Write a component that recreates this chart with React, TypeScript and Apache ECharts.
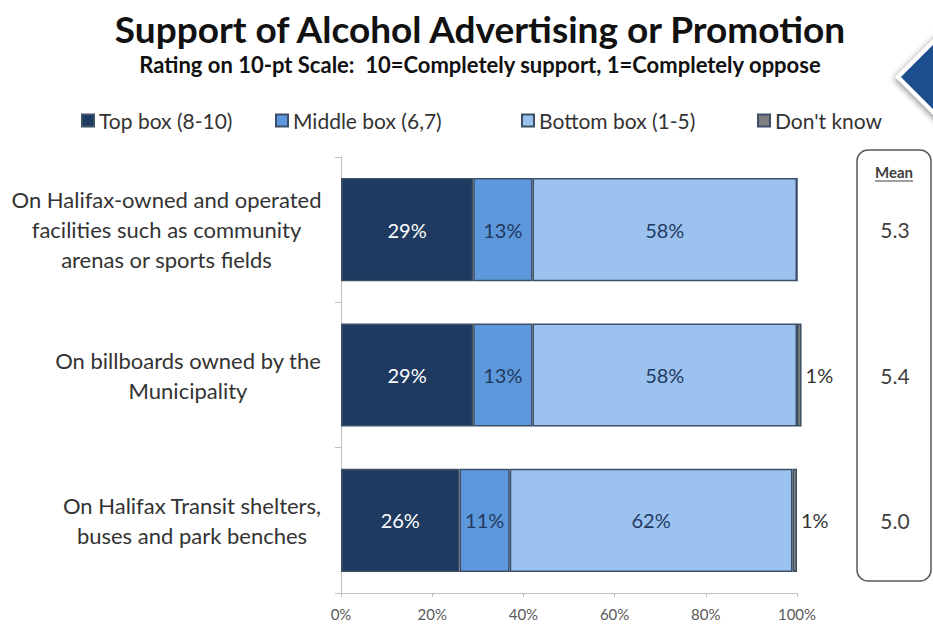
import React, { useEffect, useRef } from "react";
import * as echarts from "echarts";

const categories = [
  "On Halifax-owned and operated\nfacilities such as community\narenas or sports fields",
  "On billboards owned by the\nMunicipality",
  "On Halifax Transit shelters,\nbuses and park benches",
];
const topBox = [29, 29, 26];
const middleBox = [13, 13, 11];
const bottomBox = [58, 58, 62];
const dontKnow = [0, 1, 1];
const means = ["5.3", "5.4", "5.0"];
const seriesNames = ["Top box (8-10)", "Middle box (6,7)", "Bottom box (1-5)", "Don't know"];
const xTicks = { min: 0, max: 100, interval: 20 };

const FONT = "Lato, 'Open Sans', sans-serif";
const CAT_SIZE = 22;

function measure(text: string, size: number): number {
  const c = document.createElement("canvas").getContext("2d")!;
  c.font = `${size}px Lato`;
  return Math.max(...text.split("\n").map((l) => c.measureText(l).width));
}

export default function App() {
  const ref = useRef<HTMLDivElement>(null);
  useEffect(() => {
    const chart = echarts.init(ref.current!, null, { renderer: "svg" });
    const colors = ["#1f3a60", "#5e98dc", "#9cc3f0", "#7f7f7f"];
    const labelColors = ["#ffffff", "#1f3a60", "#1f3a60", "#333333"];
    const datasets = [topBox, middleBox, bottomBox, dontKnow];
    const legendX = [76, 270, 516, 752];
    const rich: Record<string, any> = {};
    categories.forEach((c, i) => {
      rich["c" + i] = {
        width: Math.ceil(measure(c, CAT_SIZE)) + 1,
        align: "center",
        fontSize: CAT_SIZE,
        lineHeight: 30,
        color: "#333",
        fontFamily: FONT,
      };
    });
    chart.setOption({
      animation: false,
      textStyle: { fontFamily: FONT },
      title: {
        text: "Support of Alcohol Advertising or Promotion",
        subtext: "Rating on 10-pt Scale:  10=Completely support, 1=Completely oppose",
        left: 475,
        textAlign: "center",
        top: 5,
        itemGap: 6,
        textStyle: { fontFamily: FONT, fontSize: 37, fontWeight: "bold", color: "#111" },
        subtextStyle: { fontFamily: FONT, fontSize: 22, fontWeight: "bold", color: "#111" },
      },
      legend: seriesNames.map((n, i) => ({
        data: [n],
        left: legendX[i],
        top: 105,
        icon: "rect",
        itemWidth: 12,
        itemHeight: 12,
        itemGap: 4,
        textStyle: { fontFamily: FONT, fontSize: 21, color: "#333" },
      })),
      grid: { left: 341, right: 136, top: 157, bottom: 33, containLabel: false },
      xAxis: {
        type: "value",
        min: xTicks.min,
        max: xTicks.max,
        interval: xTicks.interval,
        axisLabel: { formatter: "{value}%", fontSize: 15, color: "#595959", margin: 13 },
        axisLine: { show: true, lineStyle: { color: "#bfbfbf" } },
        axisTick: { show: true, length: 4, lineStyle: { color: "#bfbfbf" } },
        splitLine: { show: false },
      },
      yAxis: [
        {
          type: "category",
          data: categories,
          inverse: true,
          axisLine: { show: true, lineStyle: { color: "#bfbfbf" } },
          axisTick: { show: true, length: 6, lineStyle: { color: "#bfbfbf" } },
          axisLabel: {
            fontSize: CAT_SIZE,
            color: "#333",
            lineHeight: 30,
            align: "right",
            margin: 19,
            formatter: (v: string, idx: number) =>
              v
                .split("\n")
                .map((l) => `{c${idx}|${l}}`)
                .join("\n"),
            rich,
          },
        },
        {
          type: "category",
          data: means,
          inverse: true,
          position: "right",
          axisLine: { show: false },
          axisTick: { show: false },
          axisLabel: { fontSize: 21, color: "#404040", align: "center", margin: 98 },
        },
      ],
      series: seriesNames.map((n, i) => ({
        name: n,
        type: "bar",
        stack: "total",
        barCategoryGap: "29%",
        clip: false,
        data: datasets[i],
        itemStyle: { color: colors[i], borderColor: "#3d4f66", borderWidth: 1.5 },
        label: {
          show: true,
          position: i === 3 ? "right" : "inside",
          distance: 4,
          fontSize: 20,
          color: labelColors[i],
          formatter: (p: any) => (p.value > 0 ? p.value + "%" : ""),
        },
      })),
      graphic: [
        {
          type: "rect",
          shape: { x: 857, y: 150, width: 74, height: 431, r: 11 },
          style: { fill: "#fff", stroke: "#595959", lineWidth: 1.5 },
          z: -1,
        },
        {
          type: "text",
          x: 894,
          y: 172,
          style: {
            text: "Mean",
            fontFamily: FONT,
            fontSize: 15,
            fontWeight: "bold",
            fill: "#404040",
            align: "center",
            verticalAlign: "middle",
          },
        },
        {
          type: "line",
          shape: { x1: 875, y1: 181, x2: 913, y2: 181 },
          style: { stroke: "#404040", lineWidth: 1.2 },
        },
        {
          type: "polygon",
          shape: { points: [[898, 77], [942, 33], [942, 121]] },
          style: {
            fill: "#1f4e8c",
            stroke: "#ffffff",
            lineWidth: 4,
            shadowBlur: 6,
            shadowColor: "rgba(0,0,0,0.45)",
            shadowOffsetX: -1,
            shadowOffsetY: 2,
          },
        },
      ],
    });
    return () => chart.dispose();
  }, []);
  return (
    <div
      ref={ref}
      style={{ position: "fixed", left: 0, top: 0, width: 933, height: 626, background: "#fff" }}
    />
  );
}
